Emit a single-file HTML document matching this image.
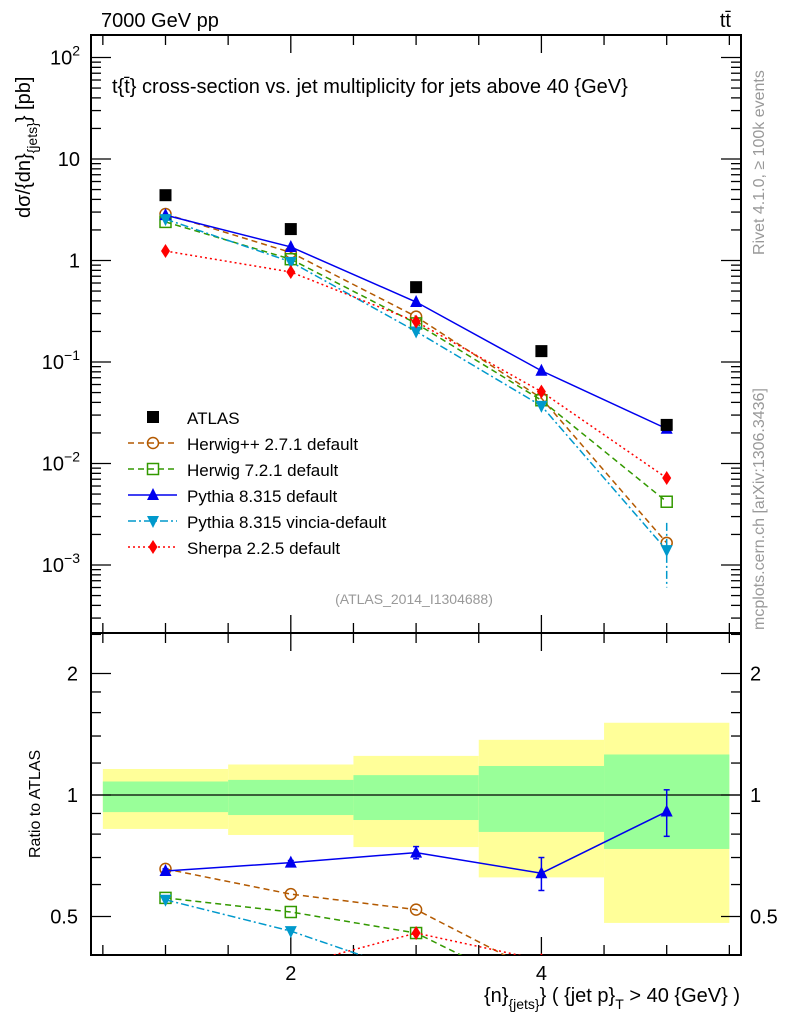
<!DOCTYPE html>
<html><head><meta charset="utf-8">
<style>
html,body{margin:0;padding:0;background:#fff;overflow:hidden;width:786px;height:1024px;}
svg{display:block;font-family:"Liberation Sans",sans-serif;}
</style></head>
<body>
<svg id="c" width="786" height="1024" viewBox="0 0 786 1024"></svg>
<script>
const categories=[1,2,3,4,5];
const atlasVals=[4.4,2.04,0.546,0.128,0.024];
const herwigppVals=[2.87,1.2,0.28,0.044,0.00165];
const herwig7Vals=[2.4,1.03,0.24,0.042,0.0042];
const pythiaVals=[2.8,1.36,0.39,0.082,0.022];
const vinciaVals=[2.56,0.97,0.20,0.037,0.0014];
const sherpaVals=[1.24,0.77,0.25,0.051,0.0072];
const herwigppRatio=[0.656,0.568,0.52,0.36,0.07];
const herwig7Ratio=[0.556,0.513,0.455,0.32,0.17];
const pythiaRatio=[0.648,0.68,0.72,0.64,0.91];
const vinciaRatio=[0.55,0.46,0.36,0.29,0.06];
const sherpaRatio=[0.28,0.376,0.455,0.39,0.29];
const pythiaRatioErr=[0.008,0.008,0.025,0.06,0.12];
const yellowHi=[1.16,1.19,1.25,1.37,1.51];
const yellowLo=[0.824,0.796,0.743,0.625,0.482];
const greenHi=[1.08,1.09,1.12,1.18,1.26];
const greenLo=[0.907,0.892,0.867,0.81,0.735];
const mainTicks=[2,1,0,-1,-2,-3];
const ratioTicks=[2,1,0.5];
const xTickLabels=[2,4];

const svg=document.getElementById('c');
const NS='http://www.w3.org/2000/svg';
const L=91,R=741,T1=35,B1=633,T2=633,B2=955;
const xs=v=>165.5+(v-1)*125.3;
const ys=v=>260.5-Math.log10(v)*101.5;
const yr=v=>795-Math.log2(v)*121.5;
function el(tag,attrs,parent){const e=document.createElementNS(NS,tag);for(const k in attrs)e.setAttribute(k,attrs[k]);(parent||svg).appendChild(e);return e;}
function txt(x,y,s,attrs,parent){const t=el('text',Object.assign({x:x,y:y},attrs||{}),parent);t.textContent=s;return t;}

const defs=el('defs',{});
const cp1=el('clipPath',{id:'cp1'},defs);el('rect',{x:L,y:T1,width:R-L,height:B1-T1},cp1);
const cp2=el('clipPath',{id:'cp2'},defs);el('rect',{x:L,y:T2,width:R-L,height:B2-T2},cp2);

const bandG=el('g',{'clip-path':'url(#cp2)'});


categories.forEach((c,i)=>{
 const x0=xs(c-0.5),x1=xs(c+0.5);
 const y=el('rect',{x:x0,y:yr(yellowHi[i]),width:x1-x0,height:yr(yellowLo[i])-yr(yellowHi[i]),fill:'#ffff99'},bandG);
 
 
 const g=el('rect',{x:x0,y:yr(greenHi[i]),width:x1-x0,height:yr(greenLo[i])-yr(greenHi[i]),fill:'#99ff99'},bandG);
 
 
});
el('line',{x1:L,x2:R,y1:yr(1),y2:yr(1),stroke:'#000','stroke-width':1.3});

const f1=el('rect',{x:L,y:T1,width:R-L,height:B1-T1,fill:'none',stroke:'#000','stroke-width':2});


const f2=el('rect',{x:L,y:T2,width:R-L,height:B2-T2,fill:'none',stroke:'#000','stroke-width':2});



[[T1,B1],[T2,B2]].forEach(([t,b])=>{
 for(let v=0.5;v<=5.5001;v+=0.5){
  const x=xs(v);const major=Math.abs(v-Math.round(v))<0.01&&Math.round(v)%2===0;
  const len=major?18:10;
  el('line',{x1:x,x2:x,y1:b,y2:b-len,stroke:'#000','stroke-width':1.3});
  el('line',{x1:x,x2:x,y1:t,y2:t+len,stroke:'#000','stroke-width':1.3});
 }
});
for(let d=-4;d<=2;d++){
 for(let m=1;m<10;m++){
  const v=m*Math.pow(10,d);const y=ys(v);
  if(y<T1||y>B1)continue;
  const len=m===1?20:10;
  el('line',{x1:L,x2:L+len,y1:y,y2:y,stroke:'#000','stroke-width':1.3});
  el('line',{x1:R,x2:R-len,y1:y,y2:y,stroke:'#000','stroke-width':1.3});
 }
}
[0.4,0.5,0.6,0.7,0.8,0.9,1,1.2,1.4,1.6,1.8,2,2.5].forEach(v=>{
 const y=yr(v);if(y<T2||y>B2)return;
 const len=(v===0.5||v===1||v===2)?20:10;
 el('line',{x1:L,x2:L+len,y1:y,y2:y,stroke:'#000','stroke-width':1.3});
 el('line',{x1:R,x2:R-len,y1:y,y2:y,stroke:'#000','stroke-width':1.3});
});

mainTicks.forEach(p=>{
 const y=ys(Math.pow(10,p))+7;
 let t;
 if(p===0){t=txt(80,y,'1',{'font-size':20,'text-anchor':'end'});}
 else if(p===1){t=txt(80,y,'10',{'font-size':20,'text-anchor':'end'});}
 else{
  t=el('text',{x:80,y:y,'font-size':20,'text-anchor':'end'});
  const a=el('tspan',{},t);a.textContent='10';
  const b=el('tspan',{dy:-9,'font-size':14},t);b.textContent=String(p).replace('-','−');
 }
 
 
});
ratioTicks.forEach(v=>{
 const y=yr(v)+7;
 const a=txt(78,y,String(v),{'font-size':20,'text-anchor':'end'});
 
 
 const b=txt(750,y,String(v),{'font-size':20});
 
 
});
xTickLabels.forEach(v=>{
 const t=txt(xs(v),980,String(v),{'font-size':20,'text-anchor':'middle'});
 
 
});

function marker(type,x,y,color,g){
 const s=6;
 if(type==='sq')return el('rect',{x:x-s,y:y-s,width:2*s,height:2*s,fill:'#000'},g);
 if(type==='circ')return el('circle',{cx:x,cy:y,r:5.5,fill:'none',stroke:color,'stroke-width':1.5},g);
 if(type==='osq')return el('rect',{x:x-5.5,y:y-5.5,width:11,height:11,fill:'none',stroke:color,'stroke-width':1.5},g);
 if(type==='tri')return el('polygon',{points:`${x},${y-7} ${x-6},${y+5} ${x+6},${y+5}`,fill:color},g);
 if(type==='itri')return el('polygon',{points:`${x},${y+7} ${x-6},${y-5} ${x+6},${y-5}`,fill:color},g);
 if(type==='dia')return el('polygon',{points:`${x},${y-7} ${x-4.5},${y} ${x},${y+7} ${x+4.5},${y}`,fill:color},g);
}
const series=[
 {name:'herwigpp',label:'Herwig++ 2.7.1 default',vals:herwigppVals,ratio:herwigppRatio,color:'#b35900',dash:'6,4',m:'circ'},
 {name:'herwig7',label:'Herwig 7.2.1 default',vals:herwig7Vals,ratio:herwig7Ratio,color:'#339900',dash:'6,4',m:'osq'},
 {name:'pythia',label:'Pythia 8.315 default',vals:pythiaVals,ratio:pythiaRatio,color:'#0000ee',dash:'',m:'tri'},
 {name:'vincia',label:'Pythia 8.315 vincia-default',vals:vinciaVals,ratio:vinciaRatio,color:'#0099cc',dash:'8,3,2,3',m:'itri'},
 {name:'sherpa',label:'Sherpa 2.2.5 default',vals:sherpaVals,ratio:sherpaRatio,color:'#ff0000',dash:'2,3',m:'dia'}
];
series.forEach(s=>{
 const g=el('g',{'clip-path':'url(#cp1)'});
 
 
 el('polyline',{points:categories.map((c,i)=>xs(c)+','+ys(s.vals[i])).join(' '),fill:'none',stroke:s.color,'stroke-width':1.5,'stroke-dasharray':s.dash},g);
 categories.forEach((c,i)=>{const m=marker(s.m,xs(c),ys(s.vals[i]),s.color,g);
  
  });
 const g2=el('g',{'clip-path':'url(#cp2)'});
 
 
 el('polyline',{points:categories.map((c,i)=>xs(c)+','+yr(s.ratio[i])).join(' '),fill:'none',stroke:s.color,'stroke-width':1.5,'stroke-dasharray':s.dash},g2);
 categories.forEach((c,i)=>{const m=marker(s.m,xs(c),yr(s.ratio[i]),s.color,g2);
  
  });
});
categories.forEach((c,i)=>{
 const x=xs(c),v=pythiaRatio[i],e=pythiaRatioErr[i];
 el('line',{x1:x,x2:x,y1:yr(v+e),y2:yr(v-e),stroke:'#0000ee','stroke-width':1.5});
 el('line',{x1:x-3,x2:x+3,y1:yr(v+e),y2:yr(v+e),stroke:'#0000ee','stroke-width':1.5});
 el('line',{x1:x-3,x2:x+3,y1:yr(v-e),y2:yr(v-e),stroke:'#0000ee','stroke-width':1.5});
});
el('line',{x1:xs(5),x2:xs(5),y1:ys(0.0026),y2:ys(0.0006),stroke:'#0099cc','stroke-width':1.5,'stroke-dasharray':'8,3,2,3'});
const ga=el('g',{});


categories.forEach((c,i)=>{const m=marker('sq',xs(c),ys(atlasVals[i]),'#000',ga);
 
 });

const lg=el('g',{});


const ly0=424,ldy=26;
const le0=el('g',{},lg);


marker('sq',153,ly0-7,'#000',le0);
txt(187,ly0,'ATLAS',{'font-size':17},le0);
series.forEach((s,i)=>{
 const y=ly0+(i+1)*ldy;
 const e=el('g',{},lg);
 
 
 el('line',{x1:128,x2:177,y1:y-7,y2:y-7,stroke:s.color,'stroke-width':1.5,'stroke-dasharray':s.dash},e);
 marker(s.m,153,y-7,s.color,e);
 txt(187,y,s.label,{'font-size':17},e);
});

function T(x,y,s,a,name){const t=txt(x,y,s,a);return t;}
T(101,27,'7000 GeV pp',{'font-size':20},'energy-label');
T(731,27,'tt̄',{'font-size':20,'text-anchor':'end'},'process-label');
T(112,93,'t{t̄} cross-section vs. jet multiplicity for jets above 40 {GeV}',{'font-size':20},'plot-title');
T(414,604,'(ATLAS_2014_I1304688)',{'font-size':14,fill:'#999','text-anchor':'middle'},'analysis-id');
T(764,255,'Rivet 4.1.0, ≥ 100k events',{'font-size':16,fill:'#999',transform:'rotate(-90 764 255)'},'rivet-label');
T(764,630,'mcplots.cern.ch [arXiv:1306.3436]',{'font-size':16,fill:'#999',transform:'rotate(-90 764 630)'},'mcplots-label');
const yt=el('text',{x:0,y:0,'font-size':20,transform:'translate(30,218) rotate(-90)'});


yt.innerHTML='dσ/{dn}<tspan dy="7" font-size="14">{jets}</tspan><tspan dy="-7">} [pb]</tspan>';
T(0,0,'Ratio to ATLAS',{'font-size':16,transform:'translate(40,858) rotate(-90)'},'ratio-axis-title');
const xt=el('text',{x:740,y:1002,'font-size':20,'text-anchor':'end'});


xt.innerHTML='{n}<tspan dy="7" font-size="14">{jets}</tspan><tspan dy="-7">} ( {jet p}</tspan><tspan dy="7" font-size="14">T</tspan><tspan dy="-7"> &gt; 40 {GeV} )</tspan>';
</script>
</body></html>
